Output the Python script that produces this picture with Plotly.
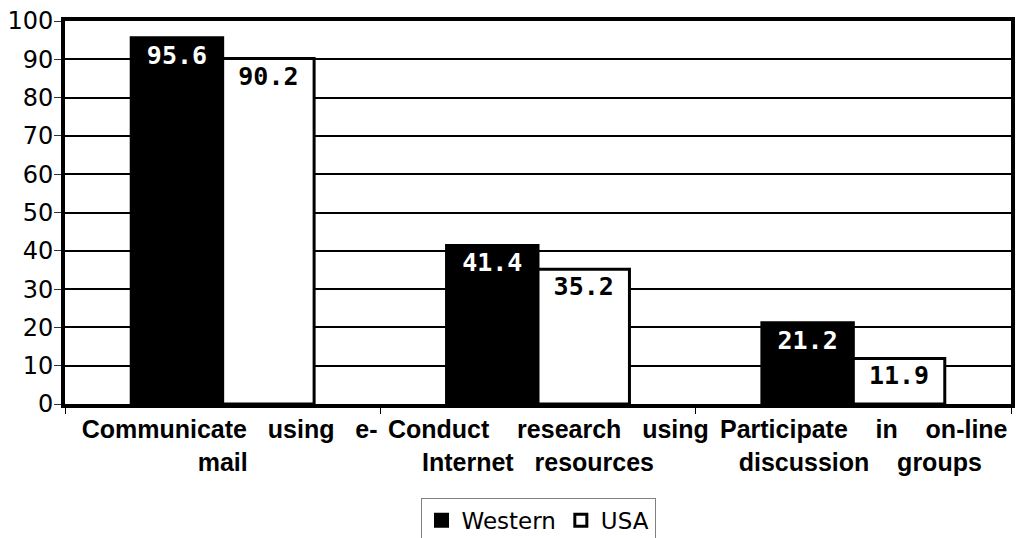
import plotly.graph_objects as go

NB = "\u00a0"

categories = [
    f"{NB*2}Communicate{NB*3}using{NB*3}e-<br>mail",
    f"{NB*3}Conduct{NB*4}research{NB*3}using<br>Internet{NB*3}resources",
    f"{NB*3}Participate{NB*4}in{NB*4}on-line<br>{NB*2}discussion{NB*4}groups",
]
western = [95.6, 41.4, 21.2]
usa = [90.2, 35.2, 11.9]
y_ticks = [0, 10, 20, 30, 40, 50, 60, 70, 80, 90, 100]

label_font = "DejaVu Sans Mono"

fig = go.Figure()
fig.add_trace(go.Bar(
    name="Western", x=categories, y=western,
    marker=dict(color="black", line=dict(color="black", width=3)),
    text=[f"{v:.1f}" for v in western], textposition="inside",
    insidetextanchor="end", constraintext="none",
    textfont=dict(family=label_font, size=25, color="white", weight="bold"),
    cliponaxis=False,
))
fig.add_trace(go.Bar(
    name="USA", x=categories, y=usa,
    marker=dict(color="white", line=dict(color="black", width=3)),
    text=[f"{v:.1f}" for v in usa], textposition="inside",
    insidetextanchor="end", constraintext="none",
    textfont=dict(family=label_font, size=25, color="black", weight="bold"),
    cliponaxis=False,
))

fig.update_layout(
    width=1017, height=538,
    margin=dict(l=65, r=6, t=21, b=134, autoexpand=False),
    paper_bgcolor="white", plot_bgcolor="white",
    barmode="group", bargap=0.42, bargroupgap=0.0,
    showlegend=True,
    legend=dict(
        orientation="h", x=0.5, xanchor="center", y=-0.245, yanchor="top",
        font=dict(family="DejaVu Sans", size=23, color="black"),
        bordercolor="#808080", borderwidth=1, bgcolor="white",
        itemwidth=30, traceorder="normal",
    ),
)

fig.update_xaxes(
    type="category", tickson="boundaries", tickangle=0, automargin=False,
    ticks="outside", ticklen=6, tickwidth=1, tickcolor="black",
    showline=True, linewidth=4, linecolor="black", mirror=True,
    showgrid=False,
    tickfont=dict(family="Liberation Sans", size=25, color="black", weight="bold"),
)
fig.update_yaxes(
    range=[0, 100], tickvals=y_ticks, automargin=False,
    ticks="outside", ticklen=7, tickwidth=1, tickcolor="#333333",
    ticklabelstandoff=-4,
    showline=True, linewidth=4, linecolor="black", mirror=True,
    showgrid=True, gridcolor="black", gridwidth=1.5,
    zeroline=False,
    tickfont=dict(family="DejaVu Sans", size=24, color="black"),
)

fig.write_html("out.html")
